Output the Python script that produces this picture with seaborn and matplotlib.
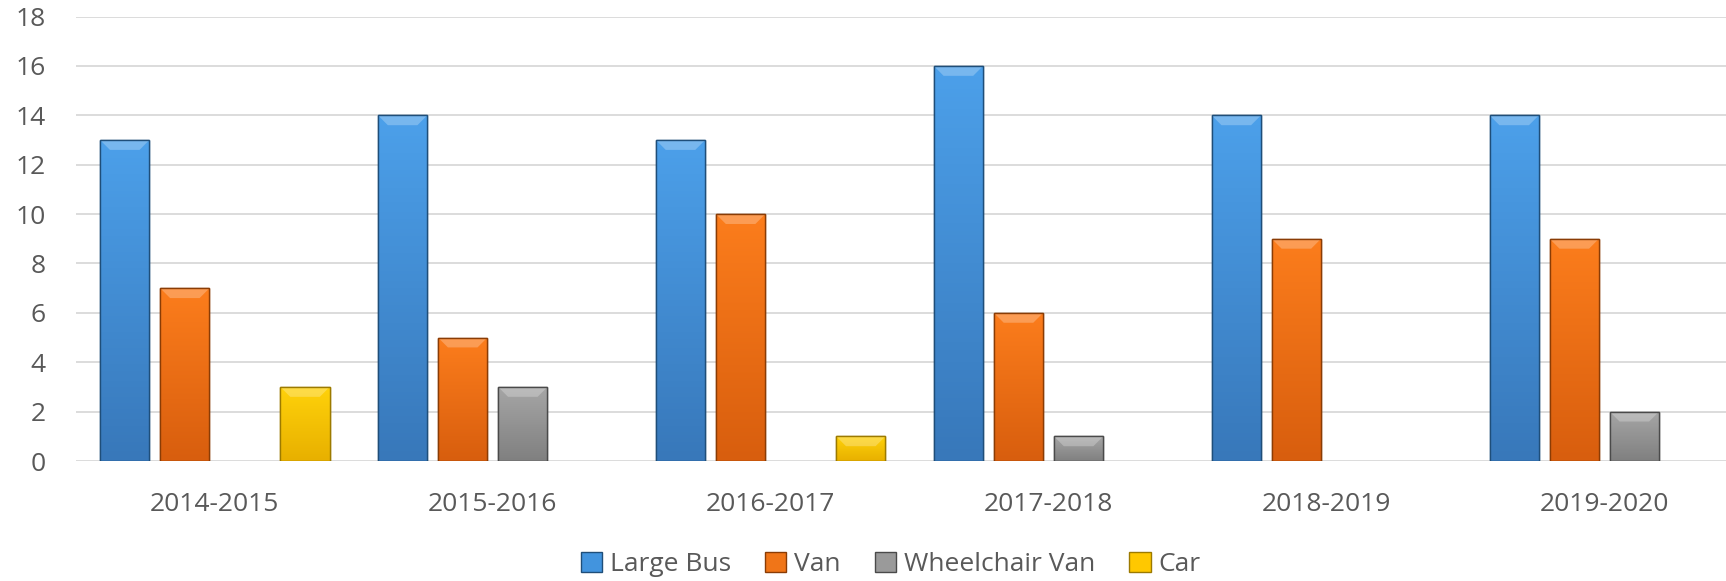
import pandas as pd
import numpy as np
import matplotlib.pyplot as plt
import seaborn as sns
from matplotlib.colors import LinearSegmentedColormap

# Values
years = ["2014-2015", "2015-2016", "2016-2017", "2017-2018", "2018-2019", "2019-2020"]
vehicle_types = ["Large Bus", "Van", "Wheelchair Van", "Car"]
large_bus = [13, 14, 13, 16, 14, 14]
van = [7, 5, 10, 6, 9, 9]
wheelchair_van = [np.nan, 3, np.nan, 1, np.nan, 2]
car = [3, np.nan, 1, np.nan, np.nan, np.nan]

palette = {"Large Bus": "#4294de", "Van": "#f07518", "Wheelchair Van": "#9a9a9a", "Car": "#ffc800"}
tops = {"Large Bus": "#4ca0ea", "Van": "#fc7d1c", "Wheelchair Van": "#a6a6a6", "Car": "#ffd20a"}
bottoms = {"Large Bus": "#3878ba", "Van": "#d85e0e", "Wheelchair Van": "#808080", "Car": "#e8b000"}
edges = {"Large Bus": "#1f4e79", "Van": "#8a3c05", "Wheelchair Van": "#4a4a4a", "Car": "#9c7a00"}

df = pd.DataFrame({"year": years, "Large Bus": large_bus, "Van": van,
                   "Wheelchair Van": wheelchair_van, "Car": car})
df = df.melt(id_vars="year", var_name="type", value_name="count")

sns.set_style("white")
plt.rcParams['font.family'] = ['Open Sans', 'DejaVu Sans']
text_col = "#595959"

fig = plt.figure(figsize=(17.26, 5.81), dpi=100)
ax = fig.add_axes([0.044, 0.2065, 0.966, 0.765])

sns.barplot(data=df, x="year", y="count", hue="type", hue_order=vehicle_types,
            palette=palette, saturation=1, width=0.865, gap=0.18, ax=ax, legend=False)

# gradient fill + bevelled top, like the Excel bars
bev_y = 0.4
for cont, name in zip(ax.containers, vehicle_types):
    cmap = LinearSegmentedColormap.from_list(name, [bottoms[name], tops[name]])
    for p in cont.patches:
        x0, y0 = p.get_x(), p.get_y()
        w, h = p.get_width(), p.get_height()
        p.set_edgecolor(edges[name])
        p.set_linewidth(1.0)
        p.set_zorder(3)
        if np.isnan(h) or h == 0:
            continue
        grad = np.linspace(0, 1, 100).reshape(-1, 1)
        im = ax.imshow(grad, extent=[x0, x0 + w, y0, y0 + h], origin="lower",
                       aspect="auto", cmap=cmap, zorder=3.5)
        im.set_clip_path(p)
        bx = w * 0.2
        by = min(bev_y, h * 0.4)
        top = y0 + h
        ax.add_patch(plt.Polygon([(x0, top), (x0 + w, top), (x0 + w - bx, top - by), (x0 + bx, top - by)],
                                 closed=True, facecolor="white", alpha=0.25, linewidth=0, zorder=4))
        ax.add_patch(plt.Rectangle((x0, y0), w, h, facecolor="none", edgecolor=edges[name],
                                   linewidth=1.0, zorder=4.5))

ax.set_ylim(0, 18)
ax.set_yticks(range(0, 19, 2))
ax.set_xlim(-0.5, 5.5)
ax.yaxis.grid(True, color="#d9d9d9", linewidth=1.3, zorder=0)
ax.set_axisbelow(True)
for s in ax.spines.values():
    s.set_visible(False)
ax.tick_params(axis="x", length=0, labelsize=19, colors=text_col, pad=22)
ax.tick_params(axis="y", length=0, labelsize=19, colors=text_col, pad=22)
ax.set_xlabel("")
ax.set_ylabel("")

handles = [plt.Rectangle((0, 0), 1, 1, facecolor=palette[n], edgecolor=edges[n]) for n in vehicle_types]
fig.legend(handles, vehicle_types, loc="center", bbox_to_anchor=(0.516, 0.028), ncol=4,
           frameon=False, fontsize=19, handlelength=0.8, handleheight=0.8,
           handletextpad=0.3, columnspacing=1.3, labelcolor=text_col)

fig.savefig("out.png", dpi=100)
